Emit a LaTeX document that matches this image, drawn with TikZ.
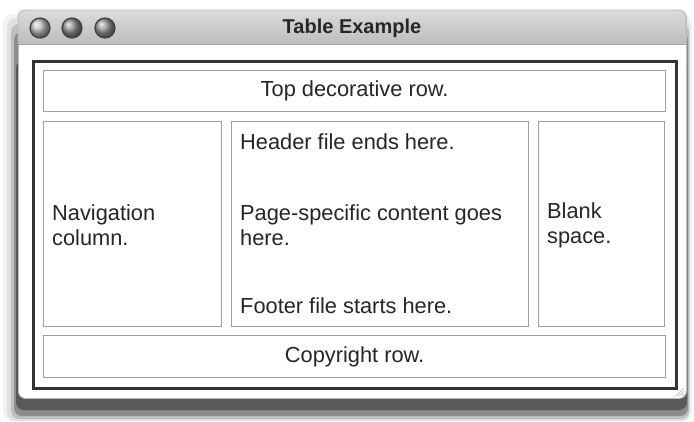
\documentclass[tikz,border=0pt]{standalone}
\usepackage{fontspec}
\setmainfont{Liberation Sans}
\usetikzlibrary{shadings,fadings}
\tikzset{
  cell/.style={draw=gray!75, line width=1.3pt, inner sep=0pt, anchor=north west},
  txt/.style={font=\fontsize{21.8}{25}\selectfont, text=black!85, inner sep=0pt},
  btn/.style={circle, minimum size=20pt, inner sep=0pt, draw=black!75, line width=1.2pt, shading=ball}
}
\begin{document}
\begin{tikzpicture}[x=1pt,y=-1pt]
\useasboundingbox (0,0) rectangle (694,421);
% shadow
\fill[black!5, rounded corners=10pt] (3,14) rectangle (692,421);
\fill[black!12, rounded corners=9pt] (7,18) rectangle (690,421);
\fill[black!25, rounded corners=8pt] (11,24) rectangle (689,419);
\fill[black!45, rounded corners=8pt] (14,32) rectangle (688,416);
\fill[black!65, rounded corners=8pt] (16,60) rectangle (687,410);
% window body
\node[draw=gray!55, fill=white, line width=0.8pt, minimum width=668pt, minimum height=388pt, anchor=north west, inner sep=0pt, rounded corners=7pt] (win) at (18,10) {};
% title bar
\begin{scope}
  \clip[rounded corners=7pt] (18,10) rectangle (686,398);
  \shade[top color=gray!28, bottom color=gray!52] (18,10) rectangle (686,44);
  \draw[gray!70, line width=0.8pt] (18,44) -- (686,44);
\end{scope}
\draw[gray!55, line width=0.8pt, rounded corners=7pt] (18,44) -- (18,10) -- (686,10) -- (686,44);
\node[font=\bfseries\fontsize{20}{24}\selectfont, text=black!85] (title) at (352,28) {Table Example};
\node[btn, ball color=gray!50] (b1) at (40,28) {};
\node[btn, ball color=gray!85] (b2) at (72,28) {};
\node[btn, ball color=gray!80] (b3) at (105,28) {};
% outer table
\node[draw=black!80, line width=2.6pt, minimum width=643pt, minimum height=327pt, anchor=north west, inner sep=0pt] (table) at (32,60) {};
% cells
\node[cell, minimum width=622pt, minimum height=41pt] (top) at (43,70) {};
\node[cell, minimum width=178pt, minimum height=205pt] (nav) at (43,121) {};
\node[cell, minimum width=297pt, minimum height=205pt] (main) at (231,121) {};
\node[cell, minimum width=126pt, minimum height=205pt] (blank) at (538,121) {};
\node[cell, minimum width=622pt, minimum height=42pt] (copy) at (43,335) {};
% texts
\node[txt] (ttop) at (top.center) {Top decorative row.};
\node[txt, align=left, anchor=west] (tnav) at (52,225) {Navigation\\column.};
\node[txt, anchor=west] (thead) at (240,142) {Header file ends here.};
\node[txt, align=left, anchor=west] (tpage) at (240,225) {Page-specific content goes\\here.};
\node[txt, anchor=west] (tfoot) at (240,306) {Footer file starts here.};
\node[txt, align=left, anchor=west] (tblank) at (547,225) {Blank\\space.};
\node[txt] (tcopy) at (copy.center) {Copyright row.};
% resize grip
\draw[gray!60, line width=0.6pt] (676,396) -- (684,388) (679,396) -- (684,391) (682,396) -- (684,394);
\end{tikzpicture}
\end{document}
